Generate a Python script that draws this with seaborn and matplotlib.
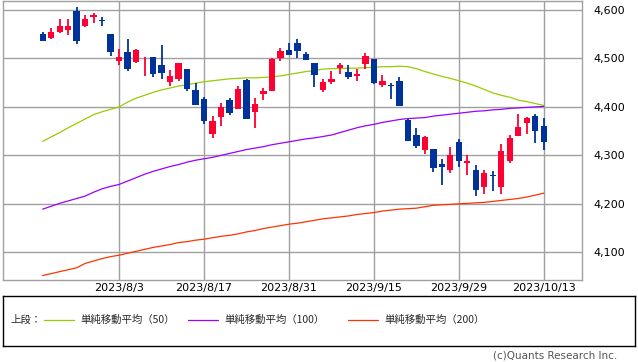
# -*- coding: utf-8 -*-
"""S&P 500 daily candles with 50/100/200-day simple moving averages (Jul-Oct 2023)."""

import pandas as pd
import matplotlib
matplotlib.use('Agg')
import matplotlib.pyplot as plt
import seaborn as sns

# Trading days shown on the chart
dates = ['7/21', '7/24', '7/25', '7/26', '7/27', '7/28', '7/31',
         '8/1', '8/2', '8/3', '8/4', '8/7', '8/8', '8/9', '8/10', '8/11', '8/14', '8/15',
         '8/16', '8/17', '8/18', '8/21', '8/22', '8/23', '8/24', '8/25', '8/28', '8/29',
         '8/30', '8/31', '9/1', '9/5', '9/6', '9/7', '9/8', '9/11', '9/12', '9/13', '9/14',
         '9/15', '9/18', '9/19', '9/20', '9/21', '9/22', '9/25', '9/26', '9/27', '9/28',
         '9/29', '10/2', '10/3', '10/4', '10/5', '10/6', '10/9', '10/10', '10/11', '10/12',
         '10/13']

opens = [4550, 4543, 4555, 4559, 4598, 4566, 4585, 4579, 4551, 4494,
         4514, 4492, 4498, 4502, 4487, 4451, 4458, 4479, 4434, 4416,
         4345, 4380, 4415, 4396, 4455, 4389, 4426, 4433, 4500, 4517,
         4531, 4510, 4490, 4435, 4451, 4481, 4473, 4463, 4488, 4498,
         4445, 4445, 4453, 4374, 4342, 4311, 4313, 4283, 4270, 4328,
         4285, 4270, 4234, 4259, 4235, 4289, 4340, 4367, 4381, 4360]
highs = [4555, 4563, 4581, 4582, 4607, 4590, 4594, 4585, 4551, 4519,
         4540, 4520, 4503, 4502, 4527, 4476, 4490, 4479, 4450, 4421,
         4382, 4408, 4419, 4443, 4458, 4418, 4440, 4500, 4522, 4532,
         4541, 4514, 4490, 4458, 4474, 4491, 4487, 4479, 4512, 4498,
         4466, 4450, 4461, 4376, 4357, 4339, 4313, 4292, 4317, 4333,
         4301, 4281, 4269, 4267, 4324, 4342, 4385, 4379, 4386, 4377]
lows = [4536, 4541, 4552, 4548, 4529, 4564, 4573, 4568, 4506, 4486,
        4475, 4491, 4464, 4461, 4458, 4444, 4453, 4432, 4404, 4365,
        4335, 4360, 4383, 4396, 4376, 4356, 4415, 4432, 4494, 4507,
        4501, 4496, 4442, 4430, 4448, 4468, 4457, 4454, 4479, 4447,
        4442, 4417, 4401, 4329, 4316, 4303, 4266, 4239, 4264, 4275,
        4260, 4216, 4220, 4226, 4220, 4284, 4340, 4345, 4325, 4312]
closes = [4536, 4555, 4567, 4567, 4537, 4582, 4589, 4577, 4513, 4502,
          4478, 4518, 4499, 4468, 4469, 4464, 4490, 4438, 4404, 4370,
          4370, 4400, 4388, 4436, 4376, 4406, 4433, 4498, 4515, 4508,
          4516, 4497, 4465, 4451, 4457, 4487, 4462, 4467, 4505, 4450,
          4454, 4444, 4402, 4330, 4320, 4337, 4274, 4275, 4300, 4288,
          4288, 4229, 4264, 4258, 4309, 4336, 4358, 4377, 4350, 4328]

# Simple moving averages
ma50 = [4329, 4338, 4347, 4357, 4366, 4375, 4384, 4390, 4395, 4400,
        4410, 4418, 4424, 4430, 4435, 4439, 4443, 4446, 4449, 4452,
        4454, 4456, 4458, 4459, 4460, 4460, 4461, 4462, 4464, 4467,
        4470, 4473, 4475, 4478, 4479, 4479, 4480, 4480, 4481, 4482,
        4483, 4483, 4484, 4483, 4479, 4473, 4468, 4463, 4459, 4454,
        4449, 4443, 4436, 4429, 4424, 4420, 4414, 4411, 4407, 4403]
ma100 = [4189, 4195, 4201, 4206, 4211, 4216, 4224, 4231, 4236, 4240,
         4247, 4254, 4261, 4267, 4272, 4277, 4281, 4286, 4290, 4293,
         4296, 4300, 4304, 4308, 4312, 4315, 4318, 4322, 4325, 4328,
         4331, 4334, 4336, 4339, 4342, 4347, 4352, 4357, 4361, 4364,
         4368, 4371, 4374, 4376, 4377, 4378, 4381, 4383, 4385, 4387,
         4389, 4391, 4392, 4394, 4395, 4397, 4398, 4399, 4400, 4401]
ma200 = [4052, 4056, 4060, 4064, 4068, 4077, 4082, 4087, 4091, 4094,
         4098, 4102, 4106, 4110, 4113, 4116, 4120, 4122, 4125, 4127,
         4130, 4133, 4135, 4138, 4142, 4145, 4149, 4152, 4155, 4158,
         4160, 4163, 4166, 4169, 4171, 4173, 4175, 4178, 4180, 4182,
         4185, 4187, 4189, 4190, 4191, 4194, 4197, 4198, 4199, 4200,
         4201, 4202, 4203, 4205, 4207, 4209, 4211, 4214, 4218, 4222]

tick_dates = ['8/3', '8/17', '8/31', '9/15', '9/29', '10/13']
y_ticks = [4100, 4200, 4300, 4400, 4500, 4600]

ma_labels = ['単純移動平均（50）', '単純移動平均（100）', '単純移動平均（200）']
ma_colors = ['#99CC00', '#9900FF', '#FF3300']

UP = '#FF0033'
DOWN = '#003399'

df = pd.DataFrame({'date': dates, 'open': opens, 'high': highs, 'low': lows,
                   'close': closes, 'ma50': ma50, 'ma100': ma100, 'ma200': ma200})
df['idx'] = range(len(df))
df['color'] = [UP if c >= o else DOWN for o, c in zip(df['open'], df['close'])]
df['body_lo'] = df[['open', 'close']].min(axis=1)
df['body_h'] = (df['close'] - df['open']).abs().clip(lower=1.5)

sns.set_style('white')
plt.rcParams['font.family'] = ['DejaVu Sans', 'Noto Sans CJK JP']

fig = plt.figure(figsize=(6.38, 3.62), dpi=100)
ax = fig.add_axes([3 / 638, 1 - 280 / 362, 579 / 638, 279 / 362])

# moving averages
for col, colr in zip(['ma50', 'ma100', 'ma200'], ma_colors):
    sns.lineplot(data=df, x='idx', y=col, color=colr, linewidth=0.9, ax=ax,
                 legend=False, zorder=2)

# candles: wicks then bodies
ax.vlines(df['idx'], df['low'], df['high'], colors=df['color'], linewidth=1.3, zorder=3)
ax.bar(df['idx'], df['body_h'], bottom=df['body_lo'], width=0.74,
       color=df['color'], linewidth=0, zorder=4)

ax.set_xlim(-4.67, 63.5)
ax.set_ylim(4042.8, 4618.6)

tick_pos = [dates.index(d) for d in tick_dates]
ax.set_xticks(tick_pos)
ax.set_xticklabels(['2023/' + d for d in tick_dates], fontsize=8)
ax.set_yticks(y_ticks)
ax.set_yticklabels([f'{v:,}' for v in y_ticks], fontsize=8)
ax.yaxis.tick_right()
ax.tick_params(axis='both', length=0, colors='#000000')
ax.tick_params(axis='y', pad=8)
ax.tick_params(axis='x', pad=2)
ax.set_xlabel('')
ax.set_ylabel('')
ax.grid(True, color='#A0A0A0', linewidth=1, zorder=0)
ax.set_axisbelow(True)
for s in ax.spines.values():
    s.set_color('#A0A0A0')
    s.set_linewidth(1)

# legend box
lax = fig.add_axes([3 / 638, 1 - 346 / 362, 632 / 638, 50 / 362])
lax.set_xlim(0, 632)
lax.set_ylim(0, 50)
lax.set_xticks([])
lax.set_yticks([])
for s in lax.spines.values():
    s.set_color('#000000')
    s.set_linewidth(1)
cjk = ['Noto Sans CJK JP', 'DejaVu Sans']
lax.text(7, 26, '上段：', fontsize=7.5, family=cjk, va='center', ha='left')
for x0, lab, colr in zip([41, 185, 345], ma_labels, ma_colors):
    lax.plot([x0, x0 + 30], [26, 26], color=colr, linewidth=0.9)
    lax.text(x0 + 36, 26, lab, fontsize=7.5, family=cjk, va='center', ha='left')

fig.text(617 / 638, 1 - 355 / 362, '(c)Quants Research Inc.', fontsize=7.5,
         color='#555555', ha='right', va='center')

fig.savefig('out.png', dpi=100)
